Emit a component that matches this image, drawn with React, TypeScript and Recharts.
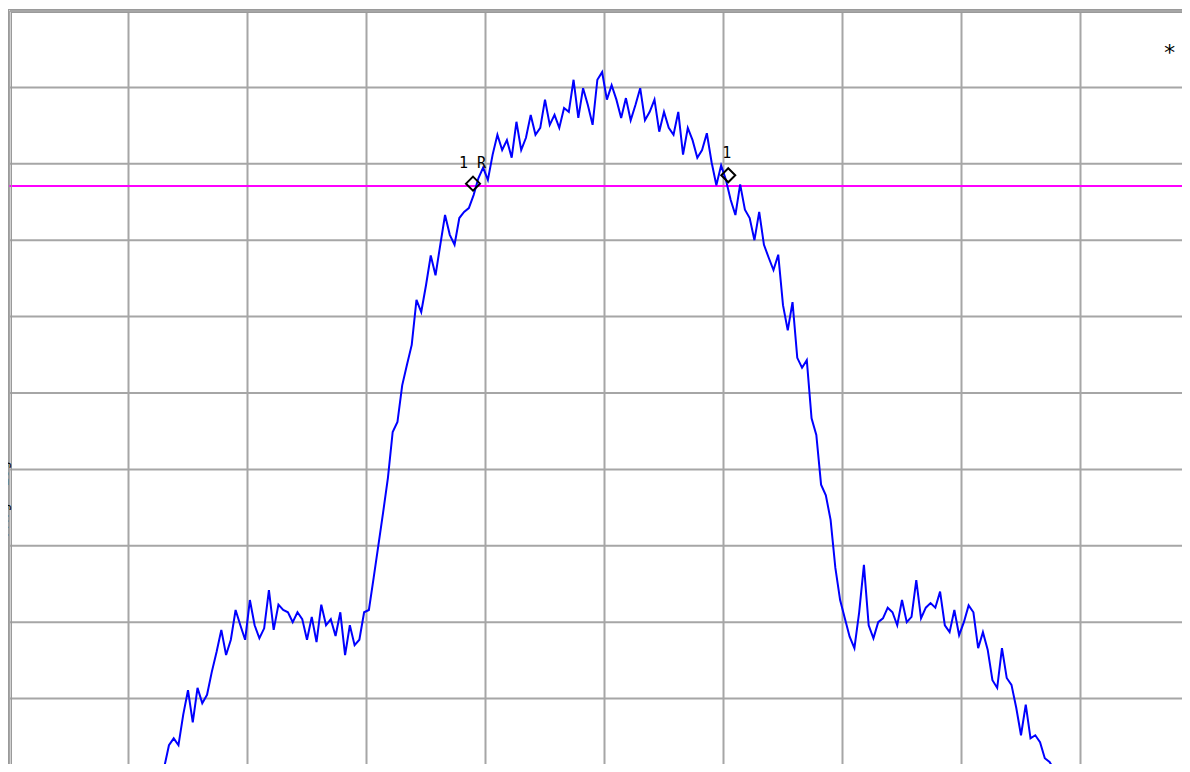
import { CartesianGrid, Line, LineChart, ReferenceDot, ReferenceLine, XAxis, YAxis } from "recharts";

// sweep points (0..1000 across the screen), trace sampled every 4 points
const startPoint = 118;
const pointStep = 4;
const traceDb = [
  -103.0, -101.5,
  -99.3, -99.0, -96.1, -95.2, -96.1, -92.1, -88.9, -93.1, -88.6, -90.6,
  -89.5, -86.5, -83.9, -81.0, -84.3, -82.3, -78.4, -80.4, -82.3, -77.1,
  -80.4, -82.1, -80.8, -75.8, -81.0, -77.7, -78.4, -78.7, -80.0, -78.7,
  -79.6, -82.3, -79.3, -82.6, -77.7, -80.4, -79.6, -81.8, -78.7, -84.3,
  -80.4, -83.0, -82.3, -78.7, -78.4, -74.2, -69.9, -65.6, -61.1, -55.1,
  -53.8, -49.0, -46.3, -43.7, -37.8, -39.4, -35.9, -32.0, -34.6, -30.6,
  -26.7, -29.3, -30.6, -27.1, -26.3, -25.8, -24.1, -21.9, -20.5, -22.1,
  -18.8, -16.2, -18.2, -16.9, -19.2, -14.5, -18.2, -16.6, -13.6, -16.2,
  -15.3, -11.6, -14.9, -13.6, -15.3, -12.7, -13.2, -9.0, -14.0, -10.1,
  -12.3, -14.9, -9.0, -8.0, -11.6, -9.7, -11.6, -14.0, -11.4, -14.3,
  -12.3, -10.1, -14.3, -13.2, -11.6, -15.8, -13.2, -15.3, -16.2, -13.2,
  -18.8, -15.3, -16.9, -19.2, -18.2, -16.0, -19.8, -22.8, -20.2, -22.1,
  -24.7, -26.7, -22.7, -26.0, -27.1, -30.0, -26.3, -30.6, -32.3, -33.9,
  -31.9, -38.5, -41.8, -38.1, -45.4, -46.7, -45.7, -53.3, -55.5, -62.0,
  -63.4, -66.6, -72.9, -77.1, -79.5, -81.9, -83.4, -78.7, -72.5, -80.4,
  -82.1, -80.0, -79.5, -78.1, -78.7, -80.4, -77.1, -80.0, -79.3, -74.5,
  -79.5, -78.1, -77.5, -78.1, -76.0, -80.4, -81.3, -78.4, -81.7, -80.0,
  -77.8, -78.7, -83.4, -81.3, -83.6, -87.6, -88.6, -83.4, -87.3, -88.2,
  -91.2, -94.8, -90.8, -95.2, -94.8, -95.7, -97.8, -98.3, -99.3, -101.3,
];

const xTicks = [0, 100, 200, 300, 400, 500, 600, 700, 800, 900, 1000];
const yTicks = [-100, -90, -80, -70, -60, -50, -40, -30, -20, -10, 0];
const displayLine = -22.9;

const markers = [
  { name: "1 R", point: 389.5, db: -22.6 },
  { name: "1", point: 604, db: -21.5 },
];

const data = traceDb.map((db, i) => ({ point: startPoint + i * pointStep, db }));

const mono = "'DejaVu Sans Mono', 'Liberation Mono', monospace";

function Diamond(props: any) {
  const { cx, cy, label } = props;
  const r = 7;
  return (
    <g>
      <polygon
        points={`${cx},${cy - r} ${cx + r},${cy} ${cx},${cy + r} ${cx - r},${cy}`}
        fill="none"
        stroke="#000"
        strokeWidth={2}
      />
      <text
        x={label === "1" ? cx - 6 : cx - 14}
        y={cy - (label === "1" ? 17 : 16)}
        fontFamily={mono}
        fontSize={15}
        fill="#000"
      >
        {label}
      </text>
    </g>
  );
}

const header = { position: "absolute" as const, top: -6, fontSize: 14, lineHeight: "14px", whiteSpace: "pre" as const };

export default function App() {
  return (
    <div
      style={{
        margin: -8,
        width: 1190,
        height: 772,
        overflow: "hidden",
        position: "relative",
        background: "#fff",
        fontFamily: mono,
      }}
    >
      <LineChart width={1212} height={790} data={data} margin={{ top: 11, left: 9.5, right: 12.5, bottom: 15 }}>
        <CartesianGrid stroke="#a6a6a6" strokeWidth={2} />
        <XAxis type="number" dataKey="point" domain={[0, 1000]} ticks={xTicks} hide />
        <YAxis type="number" domain={[-100, 0]} ticks={yTicks} allowDataOverflow hide />
        <ReferenceLine y={displayLine} stroke="#ff00ff" strokeWidth={2} />
        <Line
          dataKey="db"
          type="linear"
          stroke="#0000ff"
          strokeWidth={2}
          dot={false}
          isAnimationActive={false}
        />
        {markers.map((m) => (
          <ReferenceDot
            key={m.name}
            x={m.point}
            y={m.db}
            ifOverflow="visible"
            shape={(p: any) => <Diamond {...p} label={m.name} />}
          />
        ))}
      </LineChart>
      {/* frame along top and left */}
      <div
        style={{
          position: "absolute",
          left: 8,
          top: 9,
          width: 1200,
          height: 780,
          borderTop: "4px double #9a9a9a",
          borderLeft: "4px double #9a9a9a",
          boxSizing: "border-box",
        }}
      />
      {/* header line cut off at the top of the screenshot */}
      <div style={{ ...header, left: -2 }}>{"Ref   -10 dBm"}</div>
      <div style={{ ...header, left: 336 }}>{"Atten 10  dB"}</div>
      <div style={{ ...header, left: 1090 }}>{"10 dB/  dB"}</div>
      <div
        style={{
          position: "absolute",
          left: -4,
          top: 537,
          fontSize: 14,
          lineHeight: "14px",
          whiteSpace: "pre",
          transform: "rotate(-90deg)",
          transformOrigin: "left top",
        }}
      >
        {"PAvg  Log"}
      </div>
      <div style={{ position: "absolute", left: 1163, top: 40, fontSize: 22 }}>*</div>
    </div>
  );
}
